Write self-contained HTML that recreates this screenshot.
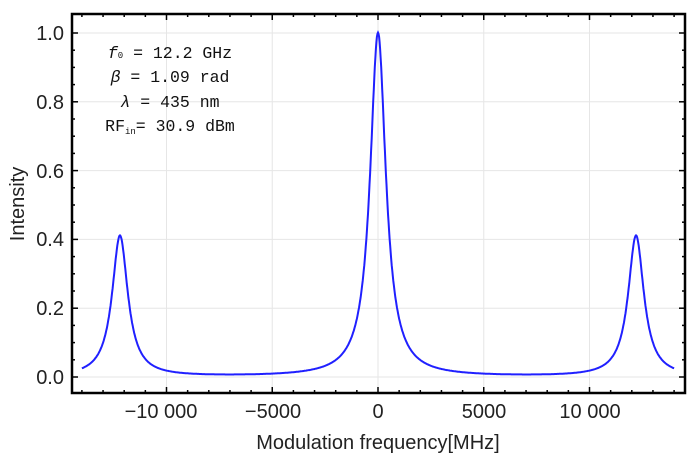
<!DOCTYPE html>
<html><head><meta charset="utf-8"><style>
body{margin:0;background:#fff;width:693px;height:459px;overflow:hidden}
svg text{font-family:"Liberation Sans",sans-serif}
svg .m{font-family:"Liberation Mono",monospace}
</style></head><body>
<svg id="s" width="693" height="459" xmlns="http://www.w3.org/2000/svg">
<g id="grid" stroke="#e6e6e6" stroke-width="1"></g>
<path id="curve" fill="none" stroke="#2020ff" stroke-width="2"/>
<rect x="72" y="14" width="613" height="379" fill="none" stroke="#000" stroke-width="2.5"/>
<g id="ticks" stroke="#000" stroke-width="1.5"></g>
<g font-size="20" fill="#222" text-anchor="end">
<text x="64" y="40">1.0</text><text x="64" y="109">0.8</text><text x="64" y="178">0.6</text>
<text x="64" y="246">0.4</text><text x="64" y="315">0.2</text><text x="64" y="384">0.0</text>
</g>
<g font-size="20" fill="#222" text-anchor="middle">
<text x="161" y="418">−10 000</text><text x="273" y="418">−5000</text><text x="378" y="418">0</text>
<text x="484" y="418">5000</text><text x="590" y="418">10 000</text>
</g>
<text x="378" y="449" font-size="20" fill="#222" text-anchor="middle">Modulation frequency[MHz]</text>
<text transform="translate(24,204) rotate(-90)" font-size="20" fill="#222" text-anchor="middle">Intensity</text>
<g fill="#111" text-anchor="middle">
<text class="m" style="font-size:16.5px" x="170" y="58"><tspan font-style="italic">f</tspan><tspan style="font-size:9px">0</tspan> = 12.2 GHz</text>
<text class="m" style="font-size:16.5px" x="170" y="82"><tspan font-style="italic">β</tspan> = 1.09 rad</text>
<text class="m" style="font-size:16.5px" x="170" y="107"><tspan font-style="italic">λ</tspan> = 435 nm</text>
<text class="m" style="font-size:16.5px" x="170" y="131">RF<tspan style="font-size:9px" dy="3">in</tspan><tspan dy="-3">= 30.9 dBm</tspan></text>
</g>
</svg>
<script>
var X=function(f){return 378+f*0.02115},Y=function(v){return 377-v*344};
var g=450,d="";
for(var f=-14000;f<=14000;f+=25){
var v=g*g/(f*f+g*g)+0.41*g*g/((f-12200)*(f-12200)+g*g)+0.41*g*g/((f+12200)*(f+12200)+g*g);
d+=(f==-14000?"M":"L")+X(f).toFixed(1)+","+Y(v).toFixed(1);}
document.getElementById("curve").setAttribute("d",d);
var gr="",tk="";
[-10000,-5000,0,5000,10000].forEach(function(f){var x=X(f);gr+='<line x1="'+x+'" y1="14" x2="'+x+'" y2="393"/>';});
for(var i=0;i<=5;i++){var y=Y(i*0.2);gr+='<line x1="72" y1="'+y+'" x2="685" y2="'+y+'"/>';}
for(var f=-14000;f<=14000;f+=1000){var x=X(f),l=(f%5000==0)?6:3;
tk+='<line x1="'+x+'" y1="393" x2="'+x+'" y2="'+(393-l)+'"/><line x1="'+x+'" y1="14" x2="'+x+'" y2="'+(14+l)+'"/>';}
for(var v=0;v<=1.0001;v+=0.05){var y=Y(v),l=(Math.round(v*100)%20==0)?6:3;
tk+='<line x1="72" y1="'+y+'" x2="'+(72+l)+'" y2="'+y+'"/><line x1="685" y1="'+y+'" x2="'+(685-l)+'" y2="'+y+'"/>';}
document.getElementById("grid").innerHTML=gr;document.getElementById("ticks").innerHTML=tk;
</script>
</body></html>
